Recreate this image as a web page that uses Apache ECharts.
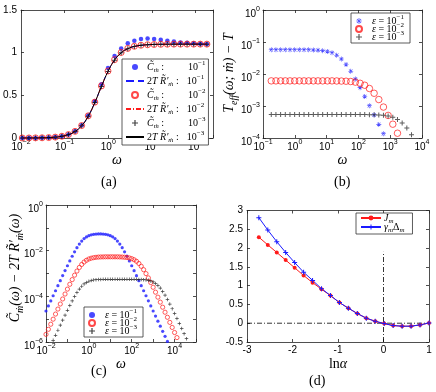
<!DOCTYPE html>
<html>
<head>
<meta charset="utf-8">
<script src="https://cdn.jsdelivr.net/npm/echarts@6/dist/echarts.min.js"></script>
<style>
html, body { margin: 0; padding: 0; background: #fff; }
#chart { width: 436px; height: 392px; }
</style>
</head>
<body>
<div id="chart"></div>
<script>
// (a) C and 2TR' against omega
var omegaA = [0.0107, 0.0152, 0.0215, 0.0304, 0.0431, 0.061, 0.0863, 0.122, 0.173, 0.245, 0.347, 0.491, 0.695, 0.984,
  1.39, 1.97, 2.79, 3.95, 5.6, 7.93, 11.2, 15.9, 22.5, 31.8, 45.1, 63.8, 90.4, 128, 181];
var cA1 = [0.0003, 0.0006, 0.0013, 0.0026, 0.0051, 0.0103, 0.021, 0.041, 0.08, 0.15, 0.265, 0.43, 0.63, 0.82,
  0.96, 1.05, 1.11, 1.14, 1.16, 1.165, 1.16, 1.15, 1.14, 1.13, 1.12, 1.115, 1.11, 1.105, 1.103];
var cA2 = [0.0003, 0.0006, 0.0013, 0.0026, 0.0051, 0.0102, 0.0205, 0.040, 0.078, 0.146, 0.26, 0.42, 0.61, 0.785,
  0.918, 1.002, 1.05, 1.075, 1.087, 1.093, 1.096, 1.098, 1.099, 1.1, 1.1, 1.1, 1.1, 1.1, 1.1];
var cA3 = [0.0003, 0.0006, 0.0013, 0.0026, 0.0051, 0.0102, 0.0203, 0.0397, 0.077, 0.144, 0.256, 0.416, 0.604, 0.78,
  0.912, 0.998, 1.047, 1.073, 1.086, 1.093, 1.097, 1.098, 1.099, 1.1, 1.1, 1.1, 1.1, 1.1, 1.1];
var rA = [0.0003, 0.0006, 0.0013, 0.0026, 0.0051, 0.0102, 0.0203, 0.0397, 0.077, 0.144, 0.256, 0.416, 0.604, 0.78,
  0.912, 0.998, 1.047, 1.073, 1.086, 1.093, 1.097, 1.098, 1.099, 1.1, 1.1, 1.1, 1.1, 1.1, 1.1];

// (b) T_eff - T
var omegaB = [0.182, 0.255, 0.358, 0.502, 0.705, 0.989, 1.39, 1.95, 2.73, 3.83, 5.37, 7.53, 10.6, 14.8, 20.8, 29.2,
  40.9, 57.4, 80.5, 113, 158, 222, 312, 438, 614, 861, 1208, 1694, 2377, 3334, 4677];
var tB1 = [0.057, 0.057, 0.057, 0.057, 0.057, 0.057, 0.057, 0.057, 0.057, 0.0561, 0.0552, 0.0536, 0.0507, 0.0459,
  0.0385, 0.0293, 0.0199, 0.0122, 0.00695, 0.00375, 0.00199, 0.00102, 0.000523, 0.000266, 0.000136];
var tB2 = [0.0061, 0.0061, 0.0061, 0.0061, 0.0061, 0.0061, 0.0061, 0.0061, 0.0061, 0.0061, 0.0061, 0.0061, 0.0061,
  0.0061, 0.00606, 0.00602, 0.00595, 0.00582, 0.00557, 0.00513, 0.00446, 0.00353, 0.0025, 0.00159, 0.000927,
  0.000508, 0.00027, 0.000141];
var tB3 = [0.00054, 0.00054, 0.00054, 0.00054, 0.00054, 0.00054, 0.00054, 0.00054, 0.00054, 0.00054, 0.00054,
  0.00054, 0.00054, 0.00054, 0.00054, 0.00054, 0.00054, 0.00054, 0.00054, 0.00054, 0.000538, 0.000536, 0.000532,
  0.000525, 0.000511, 0.000487, 0.000444, 0.000379, 0.000294, 0.000204, 0.000127];

// (c) C - 2TR'
var omegaC = [1e-2, 1.292e-2, 1.668e-2, 2.154e-2, 2.783e-2, 3.594e-2, 4.642e-2, 5.995e-2, 7.743e-2,
  0.1, 0.1292, 0.1668, 0.2154, 0.2783, 0.3594, 0.4642, 0.5995, 0.7743,
  1, 1.292, 1.668, 2.154, 2.783, 3.594, 4.642, 5.995, 7.743,
  10, 12.92, 16.68, 21.54, 27.83, 35.94, 46.42, 59.95, 77.43,
  100, 129.2, 166.8, 215.4, 278.3, 359.4, 464.2, 599.5, 774.3,
  1000, 1292, 1668, 2154, 2783, 3594, 4642, 5995, 7743,
  1e4, 1.292e4, 1.668e4, 2.154e4, 2.783e4, 3.594e4];
var dC1 = [2.28e-5, 3.80e-5, 6.32e-5, 1.06e-4, 1.76e-4, 2.93e-4, 4.86e-4, 8.09e-4, 1.34e-3,
  2.19e-3, 3.56e-3, 5.70e-3, 8.93e-3, 1.35e-2, 1.94e-2, 2.64e-2, 3.37e-2, 4.01e-2,
  4.55e-2, 4.93e-2, 5.18e-2, 5.35e-2, 5.43e-2, 5.42e-2, 5.35e-2, 5.20e-2, 4.93e-2,
  4.55e-2, 4.03e-2, 3.37e-2, 2.64e-2, 1.94e-2, 1.35e-2, 8.91e-3, 5.71e-3, 3.56e-3,
  2.19e-3, 1.33e-3, 8.07e-4, 4.86e-4, 2.93e-4, 1.76e-4, 1.06e-4, 6.34e-5, 3.80e-5,
  2.28e-5, 1.37e-5, 8.20e-6, 4.91e-6, 2.94e-6, 1.77e-6, 1.06e-6];
var dC2 = [2.16e-6, 3.60e-6, 6.00e-6, 1.00e-5, 1.67e-5, 2.77e-5, 4.60e-5, 7.66e-5, 1.26e-4,
  2.07e-4, 3.37e-4, 5.40e-4, 8.45e-4, 1.28e-3, 1.84e-3, 2.49e-3, 3.18e-3, 3.80e-3,
  4.32e-3, 4.69e-3, 4.93e-3, 5.12e-3, 5.24e-3, 5.30e-3, 5.33e-3, 5.37e-3, 5.37e-3,
  5.37e-3, 5.37e-3, 5.37e-3, 5.37e-3, 5.31e-3, 5.26e-3, 5.16e-3, 5.02e-3, 4.80e-3,
  4.47e-3, 4.01e-3, 3.43e-3, 2.75e-3, 2.07e-3, 1.47e-3, 9.89e-4, 6.41e-4, 4.02e-4,
  2.49e-4, 1.52e-4, 9.20e-5, 5.56e-5, 3.34e-5, 2.01e-5, 1.21e-5, 7.23e-6, 4.34e-6,
  2.60e-6, 1.56e-6];
var dC3 = [null, null, null, 1.18e-6, 1.96e-6, 3.27e-6, 5.43e-6, 9.02e-6, 1.49e-5,
  2.44e-5, 3.94e-5, 6.28e-5, 9.77e-5, 1.46e-4, 2.07e-4, 2.77e-4, 3.48e-4, 4.08e-4,
  4.58e-4, 4.95e-4, 5.18e-4, 5.35e-4, 5.45e-4, 5.50e-4, 5.53e-4, 5.57e-4, 5.57e-4,
  5.57e-4, 5.57e-4, 5.57e-4, 5.57e-4, 5.57e-4, 5.57e-4, 5.57e-4, 5.57e-4, 5.57e-4,
  5.57e-4, 5.57e-4, 5.53e-4, 5.51e-4, 5.46e-4, 5.37e-4, 5.24e-4, 5.02e-4, 4.71e-4,
  4.27e-4, 3.68e-4, 3.01e-4, 2.30e-4, 1.64e-4, 1.12e-4, 7.29e-5, 4.59e-5, 2.86e-5,
  1.75e-5, 1.06e-5, 6.43e-6, 3.86e-6, 2.32e-6, 1.40e-6];

// (d) J_m and gamma_m*Delta_m against ln(alpha)
var lnAlpha = [-2.74, -2.543, -2.346, -2.15, -1.953, -1.756, -1.559, -1.362, -1.166, -0.969,
  -0.772, -0.575, -0.378, -0.182, 0.015, 0.212, 0.409, 0.606, 0.803, 1.0];
var jM = [2.29, 2.085, 1.883, 1.68, 1.476, 1.27, 1.08, 0.905, 0.735, 0.55,
  0.40, 0.258, 0.134, 0.052, -0.01, -0.063, -0.079, -0.079, -0.045, 0.006];
var gM = [2.81, 2.48, 2.17, 1.883, 1.615, 1.358, 1.14, 0.92, 0.738, 0.55,
  0.40, 0.258, 0.134, 0.052, -0.01, -0.063, -0.079, -0.079, -0.045, 0.006];
var guideX = [-3, 1];
var guideY = [-0.5, 1.9];

var FONT = 'Liberation Sans';
var SERIF = 'Liberation Serif';
var BLUE = '#1a1aff', RED = '#ff1a1a';
var PLUS = 'path://M4,0H6V4H10V6H6V10H4V6H0V4H4Z';
var STAR = 'path://M4.4,0H5.6V10H4.4Z M0,4.4H10V5.6H0Z M1.1,1.9L1.9,1.1L8.9,8.1L8.1,8.9Z M8.9,1.9L8.1,1.1L1.1,8.1L1.9,8.9Z';

function pts(xs, ys) {
  var out = [];
  for (var i = 0; i < ys.length; i++) {
    if (ys[i] != null) out.push([xs[i], ys[i]]);
  }
  return out;
}

// tick labels like 10^-2
var TICK = {
  b: { fontFamily: FONT, fontSize: 10, color: '#000', padding: [3, 0, 0, 0] },
  p: { fontFamily: FONT, fontSize: 7, color: '#000', verticalAlign: 'top' }
};
function powLabel(step) {
  return function (v) {
    var e = Math.log10(v), r = Math.round(e);
    if (Math.abs(e - r) > 1e-6 || r % step !== 0) return '';
    return '{b|10}{p|' + (r < 0 ? '\u2212' + (-r) : r) + '}';
  };
}

var MATH = {
  i: { fontFamily: SERIF, fontStyle: 'italic', fontSize: 10, color: '#000', padding: [2, 0, 2, 0] },
  r: { fontFamily: SERIF, fontSize: 10, color: '#000', padding: [2, 0, 2, 0] },
  s: { fontFamily: SERIF, fontStyle: 'italic', fontSize: 7, color: '#000', verticalAlign: 'bottom' },
  p: { fontFamily: SERIF, fontSize: 7, color: '#000', verticalAlign: 'top' },
  sp1: { width: 24 },
  sp2: { width: 8 }
};
var BIG = {
  i: { fontFamily: SERIF, fontStyle: 'italic', fontSize: 14, color: '#000', padding: [3, 0, 3, 0] },
  r: { fontFamily: SERIF, fontSize: 14, color: '#000', padding: [3, 0, 3, 0] },
  s: { fontFamily: SERIF, fontStyle: 'italic', fontSize: 10, color: '#000', verticalAlign: 'bottom' }
};
// same styles for graphic text (zrender uses fill)
var BIGZ = {
  i: { fontFamily: SERIF, fontStyle: 'italic', fontSize: 14, fill: '#000', padding: [3, 0, 3, 0] },
  s: { fontFamily: SERIF, fontStyle: 'italic', fontSize: 10, fill: '#000', verticalAlign: 'bottom' }
};

function axis(dim, gi, type, min, max, extra, mirror) {
  var a = {
    type: type, gridIndex: gi, min: min, max: max,
    position: dim === 'x' ? (mirror ? 'top' : 'bottom') : (mirror ? 'right' : 'left'),
    axisLine: { show: true, onZero: false, lineStyle: { color: '#222', width: 0.8 } },
    axisTick: { show: true, inside: true, length: 3, lineStyle: { color: '#222', width: 0.8 } },
    axisLabel: { show: !mirror, color: '#000', fontFamily: FONT, fontSize: 10, margin: dim === 'x' ? 2 : 4, rich: TICK },
    splitLine: { show: false }
  };
  if (extra && !mirror) {
    for (var k in extra) a[k] = extra[k];
  }
  if (extra && extra.interval) a.interval = extra.interval;
  return a;
}

var nameX = { fontFamily: SERIF, fontStyle: 'italic', fontSize: 14, color: '#000' };

var xSpecs = [
  [0, 'log', 0.01, 250, { axisLabel: { color: '#000', margin: 1, formatter: powLabel(1), rich: TICK }, name: '\u03C9', nameLocation: 'middle', nameGap: 14, nameTextStyle: nameX }],
  [1, 'log', 0.1, 1e4, { axisLabel: { color: '#000', margin: 1, formatter: powLabel(1), rich: TICK }, name: '\u03C9', nameLocation: 'middle', nameGap: 12, nameTextStyle: nameX }],
  [2, 'log', 0.01, 1e5, { axisLabel: { color: '#000', margin: 1, formatter: powLabel(2), rich: TICK }, name: '\u03C9', nameLocation: 'middle', nameGap: 12, nameTextStyle: nameX }],
  [3, 'value', -3, 1, { interval: 1, axisLabel: { color: '#000', fontFamily: FONT, fontSize: 10, margin: 3 },
    name: '{r|ln}{i|\u03B1}', nameLocation: 'middle', nameGap: 12, nameTextStyle: { rich: BIG } }]
];
var ySpecs = [
  [0, 'value', 0, 1.5, { interval: 0.5, axisLabel: { color: '#000', fontFamily: FONT, fontSize: 10, margin: 4 } }],
  [1, 'log', 1e-4, 1, { axisLabel: { color: '#000', margin: 3, padding: [5, 0, 0, 0], formatter: powLabel(1), rich: TICK } }],
  [2, 'log', 1e-6, 1, { axisLabel: { color: '#000', margin: 3, padding: [5, 0, 0, 0], formatter: powLabel(2), rich: TICK } }],
  [3, 'value', -0.5, 3, { interval: 0.5, axisLabel: { color: '#000', fontFamily: FONT, fontSize: 10, margin: 4 } }]
];

var xAxes = [], yAxes = [];
xSpecs.forEach(function (s) { xAxes.push(axis('x', s[0], s[1], s[2], s[3], s[4], false)); });
ySpecs.forEach(function (s) { yAxes.push(axis('y', s[0], s[1], s[2], s[3], s[4], false)); });
xSpecs.forEach(function (s) { xAxes.push(axis('x', s[0], s[1], s[2], s[3], s[4], true)); });
ySpecs.forEach(function (s) { yAxes.push(axis('y', s[0], s[1], s[2], s[3], s[4], true)); });

var legendText = {
  aC1: '{i|C\u0303}{s|\u1E41}{r| :}{sp1| }{r|10}{p|\u22121}',
  aR1: '{r|2}{i|T R\u0303\u2032}{s|\u1E41}{r| :}{sp2| }{r|10}{p|\u22121}',
  aC2: '{i|C\u0303}{s|\u1E41}{r| :}{sp1| }{r|10}{p|\u22122}',
  aR2: '{r|2}{i|T R\u0303\u2032}{s|\u1E41}{r| :}{sp2| }{r|10}{p|\u22122}',
  aC3: '{i|C\u0303}{s|\u1E41}{r| :}{sp1| }{r|10}{p|\u22123}',
  aR3: '{r|2}{i|T R\u0303\u2032}{s|\u1E41}{r| :}{sp2| }{r|10}{p|\u22123}',
  bE1: '{i|\u03B5}{r| = 10}{p|\u22121}',
  bE2: '{i|\u03B5}{r| = 10}{p|\u22122}',
  bE3: '{i|\u03B5}{r| = 10}{p|\u22123}',
  cE1: '{i|\u03B5}{r| = 10}{p|\u22121}',
  cE2: '{i|\u03B5}{r| = 10}{p|\u22122}',
  cE3: '{i|\u03B5}{r| = 10}{p|\u22123}',
  dJ: '{i|J}{s|m}',
  dG: '{i|\u03B3}{s|m}{r|\u0394}{s|m}'
};
// line-only entries: hide the marker the legend would add
var lineOnly = { aR1: 1, aR2: 1, aR3: 1 };
function legend(names, left, top, itemWidth, itemGap, pad) {
  return {
    data: names.map(function (n) {
      return lineOnly[n] ? { name: n, itemStyle: { opacity: 0 } } : { name: n };
    }),
    orient: 'vertical', left: left, top: top,
    itemWidth: itemWidth, itemHeight: 6, itemGap: itemGap, padding: pad,
    borderColor: '#333', borderWidth: 0.8, backgroundColor: '#fff', borderRadius: 0,
    selectedMode: false,
    textStyle: { color: '#000', rich: MATH, padding: [0, 0, 0, -2] },
    formatter: function (n) { return legendText[n]; }
  };
}

var hollow = function (c, w) { return { color: 'transparent', borderColor: c, borderWidth: w }; };

var series = [
  // (a)
  { name: 'aC1', type: 'scatter', xAxisIndex: 0, yAxisIndex: 0, data: pts(omegaA, cA1), symbol: 'circle', symbolSize: 4.5, itemStyle: { color: BLUE } },
  { name: 'aC2', type: 'scatter', xAxisIndex: 0, yAxisIndex: 0, data: pts(omegaA, cA2), symbol: 'circle', symbolSize: 6, itemStyle: hollow(RED, 1) },
  { name: 'aC3', type: 'scatter', xAxisIndex: 0, yAxisIndex: 0, data: pts(omegaA, cA3), symbol: PLUS, symbolSize: 5, itemStyle: { color: '#111' } },
  { name: 'aR1', type: 'line', xAxisIndex: 0, yAxisIndex: 0, data: pts(omegaA, rA), smooth: true, symbol: 'none', itemStyle: { color: BLUE }, lineStyle: { color: BLUE, width: 1, type: 'dashed' } },
  { name: 'aR2', type: 'line', xAxisIndex: 0, yAxisIndex: 0, data: pts(omegaA, rA), smooth: true, symbol: 'none', itemStyle: { color: RED }, lineStyle: { color: RED, width: 1, type: [5, 2, 1, 2] } },
  { name: 'aR3', type: 'line', xAxisIndex: 0, yAxisIndex: 0, data: pts(omegaA, rA), smooth: true, symbol: 'none', itemStyle: { color: '#000' }, lineStyle: { color: '#000', width: 1 } },
  // (b)
  { name: 'bE1', type: 'scatter', xAxisIndex: 1, yAxisIndex: 1, data: pts(omegaB, tB1), symbol: STAR, symbolSize: 5, itemStyle: { color: BLUE } },
  { name: 'bE2', type: 'scatter', xAxisIndex: 1, yAxisIndex: 1, data: pts(omegaB, tB2), symbol: 'circle', symbolSize: 6.5, itemStyle: hollow(RED, 0.9) },
  { name: 'bE3', type: 'scatter', xAxisIndex: 1, yAxisIndex: 1, data: pts(omegaB, tB3), symbol: PLUS, symbolSize: 5, itemStyle: { color: '#333' } },
  // (c)
  { name: 'cE1', type: 'scatter', xAxisIndex: 2, yAxisIndex: 2, data: pts(omegaC, dC1), symbol: 'circle', symbolSize: 3.2, itemStyle: { color: BLUE } },
  { name: 'cE2', type: 'scatter', xAxisIndex: 2, yAxisIndex: 2, data: pts(omegaC, dC2), symbol: 'circle', symbolSize: 4.2, itemStyle: hollow(RED, 0.9) },
  { name: 'cE3', type: 'scatter', xAxisIndex: 2, yAxisIndex: 2, data: pts(omegaC, dC3), symbol: PLUS, symbolSize: 3.5, itemStyle: { color: '#111' } },
  // (d)
  { name: 'dH', type: 'line', xAxisIndex: 3, yAxisIndex: 3, data: [[guideX[0], 0], [guideX[1], 0]], symbol: 'none', lineStyle: { color: '#000', width: 0.8, type: [5, 2, 1, 2] } },
  { name: 'dV', type: 'line', xAxisIndex: 3, yAxisIndex: 3, data: [[0, guideY[0]], [0, guideY[1]]], symbol: 'none', lineStyle: { color: '#000', width: 0.8, type: [5, 2, 1, 2] } },
  { name: 'dJ', type: 'line', xAxisIndex: 3, yAxisIndex: 3, data: pts(lnAlpha, jM), symbol: 'circle', symbolSize: 4, lineStyle: { color: RED, width: 1 }, itemStyle: { color: RED } },
  { name: 'dG', type: 'line', xAxisIndex: 3, yAxisIndex: 3, data: pts(lnAlpha, gM), symbol: PLUS, symbolSize: 5, lineStyle: { color: BLUE, width: 1 }, itemStyle: { color: BLUE } }
];

var chart = echarts.init(document.getElementById('chart'), null, { renderer: 'canvas' });
chart.setOption({
  animation: false,
  backgroundColor: '#fff',
  grid: [
    { left: 21, top: 10, width: 192, height: 128 },
    { left: 263, top: 10, width: 159, height: 128 },
    { left: 46, top: 205, width: 150, height: 137 },
    { left: 247, top: 210.5, width: 182, height: 131.5 }
  ],
  xAxis: xAxes,
  yAxis: yAxes,
  legend: [
    legend(['aC1', 'aR1', 'aC2', 'aR2', 'aC3', 'aR3'], 122, 59, 18, 0, [1, 3, 1, 3]),
    legend(['bE1', 'bE2', 'bE3'], 351, 13, 20, -4, [1, 6, 1, 4]),
    legend(['cE1', 'cE2', 'cE3'], 84, 307, 20, -4, [1, 6, 1, 4]),
    legend(['dJ', 'dG'], 356, 213, 20, -3, [0, 8, 0, 4])
  ],
  graphic: [
    { type: 'text', x: 229, y: 73, rotation: Math.PI / 2,
      style: { text: '{i|T}{s|eff}{i|(\u03C9; \u1E41) \u2212 T}', rich: BIGZ, align: 'center', verticalAlign: 'middle' } },
    { type: 'text', x: 15, y: 268, rotation: Math.PI / 2,
      style: { text: '{i|C\u0303}{s|\u1E41}{i|(\u03C9) \u2212 2T R\u0303\u2032}{s|\u1E41}{i|(\u03C9)}', rich: BIGZ, align: 'center', verticalAlign: 'middle' } },
    { type: 'text', left: 101, top: 175, style: { text: '(a)', font: '14px "Liberation Serif"', fill: '#000' } },
    { type: 'text', left: 334, top: 175, style: { text: '(b)', font: '14px "Liberation Serif"', fill: '#000' } },
    { type: 'text', left: 91, top: 364, style: { text: '(c)', font: '14px "Liberation Serif"', fill: '#000' } },
    { type: 'text', left: 309, top: 374, style: { text: '(d)', font: '14px "Liberation Serif"', fill: '#000' } }
  ],
  series: series
});
</script>
</body>
</html>
